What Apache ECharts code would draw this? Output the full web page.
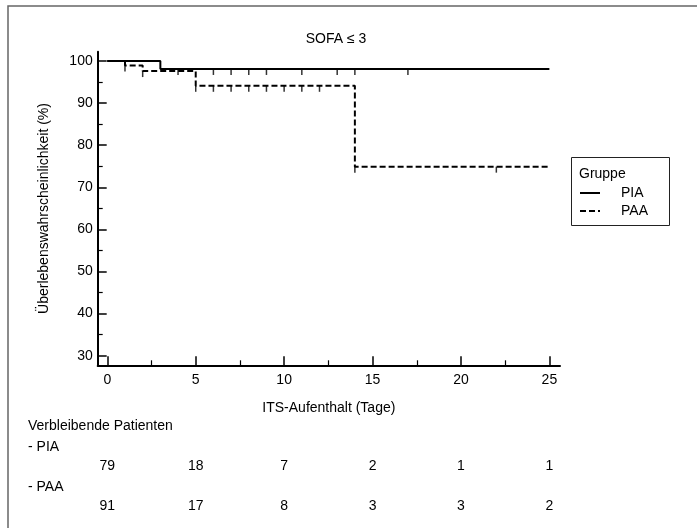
<!DOCTYPE html>
<html>
<head>
<meta charset="utf-8">
<script src="https://cdn.jsdelivr.net/npm/echarts@6.0.0/dist/echarts.min.js"></script>
<style>
html,body{margin:0;padding:0;background:#fff;}
#chart{width:697px;height:528px;}
</style>
</head>
<body>
<div id="chart"></div>
<script>
// ---- data ----
var titleText = 'SOFA ≤ 3';
var groups = ['PIA', 'PAA'];
var piaTimes = [0, 3, 25];
var piaSurv = [100, 98.1, 98.1];
var paaTimes = [0, 1, 2, 5, 14, 25];
var paaSurv = [100, 98.9, 97.6, 94.1, 74.9, 74.9];
var piaCensor = [4, 6, 7, 8, 9, 11, 13, 14, 17];
var paaCensor = [1, 2, 5, 6, 7, 8, 9, 10, 11, 12, 14, 22];
var xTicks = [0, 5, 10, 15, 20, 25];
var xMinorTicks = [2.5, 7.5, 12.5, 17.5, 22.5];
var yTicks = [30, 40, 50, 60, 70, 80, 90, 100];
var yMinorTicks = [35, 45, 55, 65, 75, 85, 95];
var riskTimes = [0, 5, 10, 15, 20, 25];
var riskPIA = [79, 18, 7, 2, 1, 1];
var riskPAA = [91, 17, 8, 3, 3, 2];
var xName = 'ITS-Aufenthalt (Tage)';
var yName = 'Überlebenswahrscheinlichkeit (%)';
var riskTitle = 'Verbleibende Patienten';
var legendTitle = 'Gruppe';

function survAt(times, surv, t) {
  var v = surv[0];
  for (var i = 0; i < times.length; i++) { if (times[i] <= t) v = surv[i]; }
  return v;
}
function pairs(a, b) { return a.map(function (x, i) { return [x, b[i]]; }); }

var FONT = 'Liberation Sans, Arial, sans-serif';
var chart = echarts.init(document.getElementById('chart'), null, {renderer: 'canvas'});

var gridPos = {left: 97.7, right: 137, top: 51.7, bottom: 162.7};
var xMin = -0.543, xMax = 25.6, yMin = 27.72, yMax = 102.2;

var option = {
  animation: false,
  backgroundColor: '#fff',
  title: {
    text: titleText, left: 331, top: 27, textAlign: 'center',
    textStyle: {fontFamily: FONT, fontSize: 14, fontWeight: 'normal', color: '#000'}
  },
  grid: gridPos,
  legend: {
    data: groups, orient: 'vertical', left: 574, top: 181,
    itemWidth: 20, itemHeight: 10, itemGap: 4,
    itemStyle: {opacity: 0},
    textStyle: {fontFamily: FONT, fontSize: 14, color: '#000', padding: [0,0,0,16]}
  },
  xAxis: [{
    type: 'value', min: xMin, max: xMax,
    name: xName, nameLocation: 'middle', nameGap: 36,
    nameTextStyle: {fontFamily: FONT, fontSize: 14, color: '#000'},
    axisLine: {onZero: false, lineStyle: {color: '#000', width: 2}},
    axisTick: {inside: true, length: 9, customValues: xTicks, lineStyle: {color: '#000', width: 1.5}},
    axisLabel: {customValues: xTicks, fontFamily: FONT, fontSize: 14, color: '#000', margin: 8},
    splitLine: {show: false}
  }, {
    type: 'value', min: xMin, max: xMax, position: 'bottom',
    axisLine: {show: false, onZero: false},
    axisTick: {inside: true, length: 5, customValues: xMinorTicks, lineStyle: {color: '#000', width: 1.2}},
    axisLabel: {show: false}, splitLine: {show: false}
  }],
  yAxis: [{
    type: 'value', min: yMin, max: yMax,
    name: yName, nameLocation: 'middle', nameGap: 47,
    nameTextStyle: {fontFamily: FONT, fontSize: 14, color: '#000'},
    axisLine: {show: true, onZero: false, lineStyle: {color: '#000', width: 2}},
    axisTick: {show: true, inside: true, length: 9, customValues: yTicks, lineStyle: {color: '#000', width: 1.5}},
    axisLabel: {customValues: yTicks, fontFamily: FONT, fontSize: 14, color: '#000', margin: 5},
    splitLine: {show: false}
  }, {
    type: 'value', min: yMin, max: yMax, position: 'left',
    axisLine: {show: false, onZero: false},
    axisTick: {show: true, inside: true, length: 5, customValues: yMinorTicks, lineStyle: {color: '#000', width: 1.2}},
    axisLabel: {show: false}, splitLine: {show: false}
  }],
  series: [{
    name: groups[0], type: 'line', step: 'end', symbol: 'none',
    data: pairs(piaTimes, piaSurv),
    lineStyle: {color: '#000', width: 2, type: 'solid'}, itemStyle: {color: '#000'}
  }, {
    name: groups[1], type: 'line', step: 'end', symbol: 'none',
    data: pairs(paaTimes, paaSurv),
    lineStyle: {color: '#000', width: 2, type: [6, 3]}, itemStyle: {color: '#000'}
  }, {
    type: 'scatter', symbol: 'rect', symbolSize: [1.5, 6], symbolOffset: [0, 3],
    data: piaCensor.map(function (t) { return [t, survAt(piaTimes, piaSurv, t)]; }),
    itemStyle: {color: '#000'}, z: 3
  }, {
    type: 'scatter', symbol: 'rect', symbolSize: [1.5, 6], symbolOffset: [0, 3],
    data: paaCensor.map(function (t) { return [t, survAt(paaTimes, paaSurv, t)]; }),
    itemStyle: {color: '#000'}, z: 3
  }]
};
chart.setOption(option);

// graphic: frame, legend box, risk table (positions via the x axis scale)
var g = [];
g.push({type: 'rect', shape: {x: 8, y: 6, width: 720, height: 560}, style: {fill: null, stroke: '#666', lineWidth: 1.5}, silent: true});
g.push({type: 'rect', shape: {x: 571.5, y: 157.5, width: 98, height: 68}, style: {fill: null, stroke: '#222', lineWidth: 1}, silent: true});
g.push({type: 'text', x: 579, y: 174, style: {text: legendTitle, font: '14px ' + FONT, fill: '#000', textVerticalAlign: 'middle'}});
g.push({type: 'text', x: 28, y: 426, style: {text: riskTitle, font: '14px ' + FONT, fill: '#000', textVerticalAlign: 'middle'}});
g.push({type: 'text', x: 28, y: 447, style: {text: '- ' + groups[0], font: '14px ' + FONT, fill: '#000', textVerticalAlign: 'middle'}});
g.push({type: 'text', x: 28, y: 487, style: {text: '- ' + groups[1], font: '14px ' + FONT, fill: '#000', textVerticalAlign: 'middle'}});
riskTimes.forEach(function (t, i) {
  var px = chart.convertToPixel({xAxisIndex: 0}, t);
  g.push({type: 'text', x: px, y: 466, style: {text: String(riskPIA[i]), font: '14px ' + FONT, fill: '#000', textAlign: 'center', textVerticalAlign: 'middle'}});
  g.push({type: 'text', x: px, y: 506, style: {text: String(riskPAA[i]), font: '14px ' + FONT, fill: '#000', textAlign: 'center', textVerticalAlign: 'middle'}});
});
chart.setOption({graphic: g});
</script>
</body>
</html>
